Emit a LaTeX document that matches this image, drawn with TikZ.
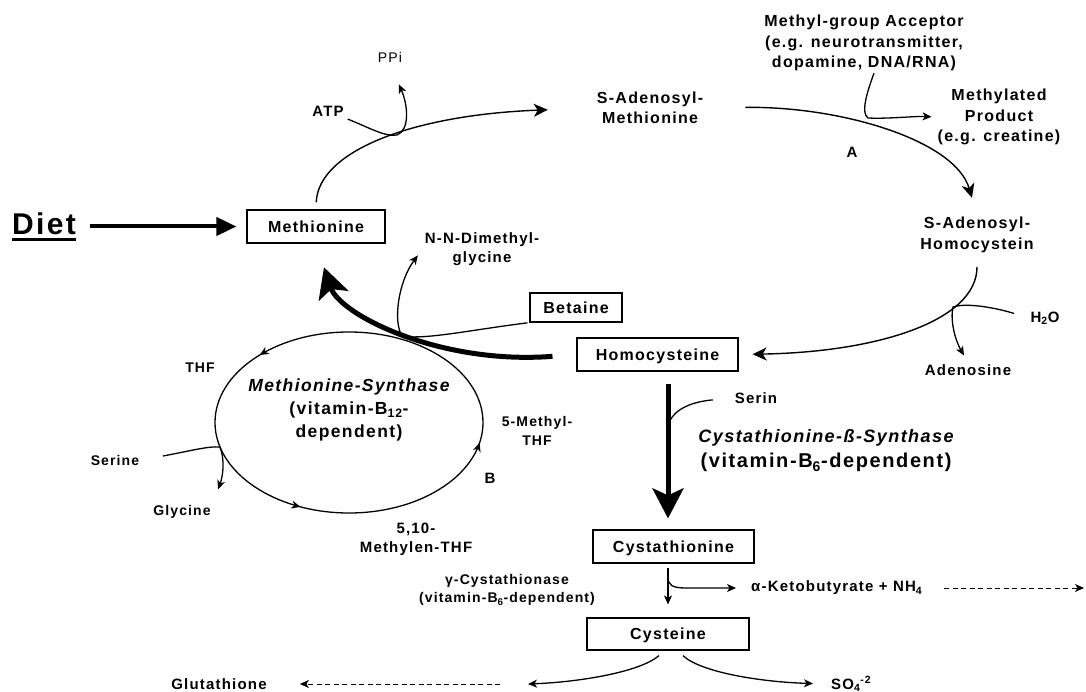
\documentclass[tikz,border=0pt]{standalone}
\usepackage{fontspec}
\setmainfont{Liberation Sans}[LetterSpace=8]
\usetikzlibrary{arrows.meta,decorations.markings}

\newcommand{\thickul}[1]{\setbox0\hbox{#1}\rlap{\rule[-6.5pt]{\wd0}{3pt}}\box0}
\newcommand{\fsDiet}{\fontsize{30}{36}\selectfont\bfseries}
\newcommand{\fsBox}{\fontsize{16}{20}\selectfont\bfseries}
\newcommand{\fsLab}{\fontsize{16}{20.5}\selectfont\bfseries}
\newcommand{\fsMid}{\fontsize{15}{19}\selectfont\bfseries}
\newcommand{\fsSm}{\fontsize{14}{18.5}\selectfont\bfseries}
\newcommand{\fsMS}{\fontsize{17.5}{23}\selectfont\bfseries}
\newcommand{\fsCBS}{\fontsize{20}{25}\selectfont\bfseries}

\begin{document}
\begin{tikzpicture}[x=1pt,y=-1pt,
      box/.style={draw,line width=1.2pt,inner sep=0pt,font=\fsBox,text height=11.5pt,text depth=0pt},
      lbl/.style={align=center,inner sep=2pt,font=\fsLab},
      lblmid/.style={align=center,inner sep=2pt,font=\fsMid},
      lblsm/.style={align=center,inner sep=2pt,font=\fsSm},
      joinline/.style={line width=1.3pt},
      flow/.style={line width=1.3pt,-{Stealth[length=9pt,width=8pt,inset=2.5pt]}},
      arcflow/.style={line width=1.4pt,-{Stealth[length=14pt,width=13pt,inset=4pt]}},
      bigflow/.style={line width=5pt,-{Stealth[length=30pt,width=31pt,inset=7pt]}},
      dietflow/.style={line width=4pt,-{Triangle[length=20pt,width=18pt]}},
      dashflow/.style={line width=1pt,dash pattern=on 5pt off 3.5pt,-{Stealth[length=9pt,width=8pt,inset=2.5pt]}},
      cyclemark/.style={postaction={decorate},decoration={markings,
        mark=at position 0.381 with {\arrow{Stealth[length=9pt,width=8pt]}},
        mark=at position 0.681 with {\arrow{Stealth[length=9pt,width=8pt]}},
        mark=at position 0.971 with {\arrow{Stealth[length=9pt,width=8pt]}}}}]
      \useasboundingbox (0,0) rectangle (1086,692);

      \node[font=\fsDiet,anchor=base,inner sep=2pt] (diet) at (44,235) {\thickul{Diet}};
      \node[box,minimum width=138pt,minimum height=33pt] (met) at (316,226.5) {Methionine};
      \node[box,minimum width=161pt,minimum height=33pt] (homo) at (657.5,354.5) {Homocysteine};
      \node[box,minimum width=92pt,minimum height=29pt] (bet) at (576,307.5) {Betaine};
      \node[box,minimum width=161pt,minimum height=33pt] (cyst) at (673.5,546.5) {Cystathionine};
      \node[box,minimum width=162pt,minimum height=32pt] (cys) at (668,634) {Cysteine};

      \node[lblsm,font=\fontsize{14}{18}\selectfont] (ppi) at (390,57) {PPi};
      \node[lblmid] (atp) at (328,111) {ATP};
      \node[lbl] (sam) at (650,108) {S-Adenosyl-\\Methionine};
      \node[lbl] (acc) at (864,43) {Methyl-group Acceptor\\(e.g. neurotransmitter,\\dopamine, DNA/RNA)};
      \node[lbl] (prod) at (999,117) {Methylated\\Product\\(e.g. creatine)};
      \node[lblmid] (labA) at (852,152) {A};
      \node[lbl] (sah) at (977,235) {S-Adenosyl-\\Homocystein};
      \node[lblmid] (h2o) at (1045,318) {H\textsubscript{2}O};
      \node[lblmid] (aden) at (968,370) {Adenosine};
      \node[lblmid] (nndmg) at (482,249) {N-N-Dimethyl-\\glycine};
      \node[lblsm] (thf) at (200,368) {THF};
      \node[lblsm] (mthf) at (537,431) {5-Methyl-\\THF};
      \node[lblsm] (ser) at (115,460) {Serine};
      \node[lblsm] (gly) at (182,512) {Glycine};
      \node[lblmid] (labB) at (490,478) {B};
      \node[lblmid] (mlthf) at (416,539) {5,10-\\Methylen-THF};
      \node[align=center,font=\fsMS] (mstext) at (349,410) {{\itshape Methionine-Synthase}\\(vitamin-B\textsubscript{12}-\\dependent)};
      \node[lblmid] (serin) at (756,398) {Serin};
      \node[align=center,font=\fsCBS] (cbs) at (826,451) {{\fontsize{18}{22}\selectfont\itshape Cystathionine-ß-Synthase}\\(vitamin-B\textsubscript{6}-dependent)};
      \node[lblsm] (cgl) at (507,590) {γ-Cystathionase\\(vitamin-B\textsubscript{6}-dependent)};
      \node[lblmid,anchor=west] (keto) at (749,588) {α-Ketobutyrate + NH\textsubscript{4}};
      \node[lblmid] (glu) at (219,684) {Glutathione};
      \node[lblmid,anchor=west] (so4) at (829,684) {SO\textsubscript{4}\textsuperscript{-2}};

      \coordinate (j1) at (397,135);
      \coordinate (j2) at (868,118);
      \coordinate (j3) at (953,307);
      \coordinate (j4) at (402,336);
      \coordinate (j5) at (668,426);
      \coordinate (j6) at (668,577);
      \coordinate (j7) at (220,447);
      \coordinate (msc) at (349,422.5);
      \coordinate (gluA) at (528,684);
      \coordinate (gluB) at (500,684);
      \coordinate (rEnd) at (1084,588);

      \draw[dietflow,shorten <=12pt,shorten >=10pt] (met.west -| diet.east) -- (met.west);
      \draw[arcflow,shorten <=7pt,shorten >=47pt] (met.north) .. controls (318,152) and (410,115) .. (sam.west);
      \draw[flow,shorten <=2pt,shorten >=22pt] (atp.south east) .. controls (370,128) and (385,137) .. (j1) .. controls (410,130) and (408,105) .. (ppi.south);
      \draw[arcflow,shorten <=40pt,shorten >=18pt] (sam.east) .. controls (840,106) and (955,140) .. (sah.north);
      \draw[flow,shorten >=4pt] ([xshift=10pt]acc.south) .. controls (866,95) and (861,113) .. (j2) .. controls (888,119) and (915,116) .. (prod.west);
      \draw[arcflow,shorten <=12pt,shorten >=14pt] (sah.south) .. controls (977,320) and (880,352) .. (homo.east);
      \draw[flow,shorten <=15pt,shorten >=8pt] (h2o.west) .. controls (1000,309) and (968,302) .. (j3) .. controls (950,320) and (955,340) .. (aden.north);
      \draw[bigflow,shorten <=24pt,shorten >=25pt] (homo.west) .. controls (440,365) and (340,315) .. (met.south);
      \draw[flow,shorten <=2pt,shorten >=8pt] (bet.south west) .. controls (470,330) and (425,340) .. (j4) .. controls (393,322) and (398,282) .. (nndmg.west);
      \draw[line width=1.3pt,cyclemark] (msc) ellipse [x radius=134pt,y radius=90.5pt];
      \draw[flow,shorten <=22pt,shorten >=15pt] (ser.east) .. controls (190,451) and (208,446) .. (j7) .. controls (225,460) and (223,476) .. (gly.north east);
      \draw[bigflow,shorten <=12pt,shorten >=11pt] (homo.south -| cys) -- (cyst.north -| cys);
      \draw[joinline,shorten <=20pt] (serin.west) .. controls (690,402) and (672,410) .. (j5);
      \draw[flow,shorten <=4pt,shorten >=13pt] (cyst.south -| cys) -- (cys.north);
      \draw[flow,shorten >=13pt] (j6) .. controls (668,585) and (672,588) .. (686,588) -- (keto.west);
      \draw[dashflow,shorten <=20pt] (keto.east) -- (rEnd);
      \draw[flow] ([xshift=-9pt,yshift=-5pt]cys.south) .. controls (640,672) and (580,682) .. (gluA);
      \draw[flow,shorten >=16pt] ([xshift=15pt,yshift=-5pt]cys.south) .. controls (700,672) and (760,682) .. (so4.west);
      \draw[dashflow,shorten >=31pt] (gluB) -- (glu.east);
\end{tikzpicture}
\end{document}
